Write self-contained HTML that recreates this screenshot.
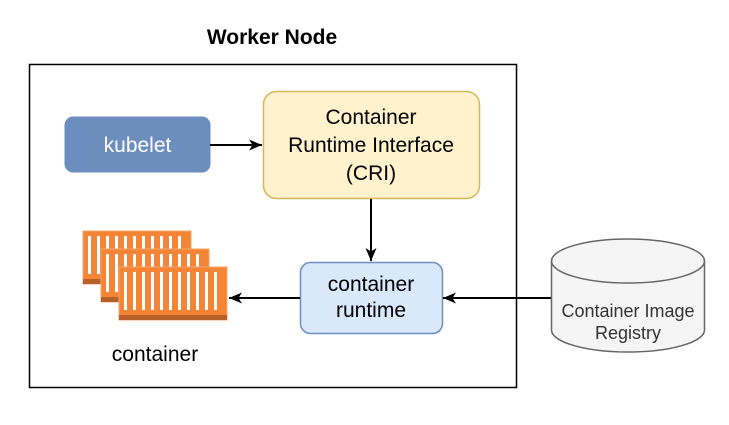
<!DOCTYPE html>
<html><head><style>body{margin:0;background:#fff}svg{display:block}</style></head><body>
<svg width="729" height="425" viewBox="0 0 729 425" xmlns="http://www.w3.org/2000/svg" font-family="Liberation Sans, sans-serif">
<defs>
<marker id="a" markerWidth="14" markerHeight="14" refX="13" refY="7" orient="auto" markerUnits="userSpaceOnUse"><path d="M0,1.5 L13,7 L0,12.5 L3.5,7 Z" fill="#000"/></marker>
<g id="c">
<rect x="0" y="0" width="108" height="53" fill="#f58536" stroke="#f7a56a" stroke-width="1"/>
<rect x="0" y="48" width="108" height="5" fill="#b8602a"/>
<g fill="#fff">
<rect x="5" y="5" width="3" height="38"/><rect x="14" y="5" width="3" height="38"/><rect x="23" y="5" width="3" height="38"/><rect x="32" y="5" width="3" height="38"/><rect x="41" y="5" width="3" height="38"/><rect x="50" y="5" width="3" height="38"/><rect x="59" y="5" width="3" height="38"/><rect x="68" y="5" width="3" height="38"/><rect x="77" y="5" width="3" height="38"/><rect x="86" y="5" width="3" height="38"/><rect x="95" y="5" width="3" height="38"/>
</g>
</g>
</defs>
<text x="272" y="44" font-size="21" font-weight="bold" text-anchor="middle">Worker Node</text>
<rect x="29.5" y="64.5" width="487" height="323" fill="none" stroke="#000" stroke-width="1.5"/>
<rect x="65" y="117" width="145" height="55" rx="8" fill="#6c8ebf" stroke="#6c8ebf"/>
<text x="137.5" y="152" font-size="21" fill="#fff" text-anchor="middle">kubelet</text>
<rect x="263.5" y="91.5" width="216" height="107" rx="13" fill="#fff2cc" stroke="#d6b656" stroke-width="1.5"/>
<text font-size="21" text-anchor="middle"><tspan x="371" y="124">Container</tspan><tspan x="371" y="152">Runtime Interface</tspan><tspan x="371" y="180">(CRI)</tspan></text>
<line x1="210" y1="145" x2="262" y2="145" stroke="#000" stroke-width="2" marker-end="url(#a)"/>
<line x1="371" y1="199" x2="371" y2="261" stroke="#000" stroke-width="2" marker-end="url(#a)"/>
<rect x="300.5" y="262.5" width="142" height="71" rx="10" fill="#dae8fc" stroke="#6c8ebf" stroke-width="1.5"/>
<text font-size="21" text-anchor="middle"><tspan x="371" y="291">container</tspan><tspan x="371" y="317">runtime</tspan></text>
<line x1="300" y1="298" x2="229" y2="298" stroke="#000" stroke-width="2" marker-end="url(#a)"/>
<line x1="551" y1="298" x2="443" y2="298" stroke="#000" stroke-width="2" marker-end="url(#a)"/>
<use href="#c" x="83" y="231"/>
<use href="#c" x="101" y="249"/>
<use href="#c" x="119" y="267"/>
<text x="155" y="361" font-size="21" text-anchor="middle">container</text>
<path d="M551.5,261 L551.5,330 A76.5,22 0 0 0 704.5,330 L704.5,261 A76.5,22 0 0 0 551.5,261 Z" fill="#f5f5f5" stroke="#666" stroke-width="1.5"/>
<path d="M551.5,261 A76.5,22 0 0 0 704.5,261" fill="none" stroke="#666" stroke-width="1.5"/>
<text font-size="18" fill="#333" text-anchor="middle"><tspan x="628" y="317">Container Image</tspan><tspan x="628" y="339">Registry</tspan></text>
</svg>
</body></html>
